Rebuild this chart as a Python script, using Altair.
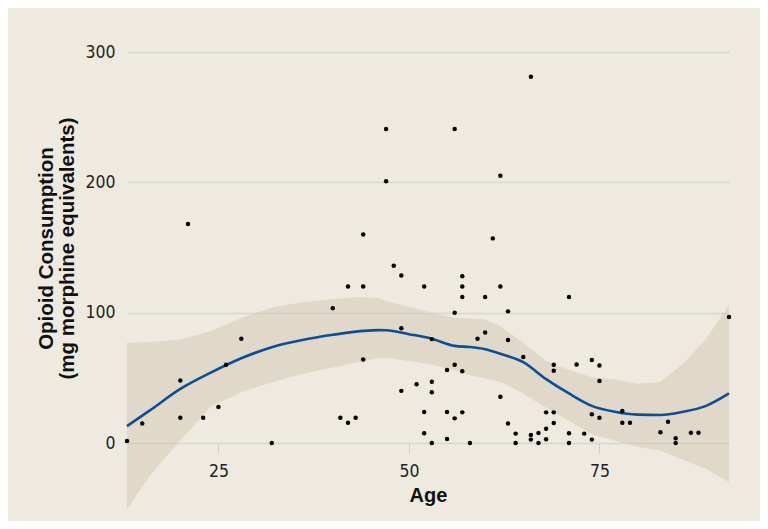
import altair as alt
import pandas as pd

# Scatter points: age (years) and opioid consumption (mg morphine equivalents)
ages = [13, 15, 20, 20, 21, 23, 25, 26, 28, 32,
        40, 41, 42, 42, 43, 44, 44, 44, 47, 47,
        48, 49, 49, 49, 51, 52, 52, 52, 53, 53,
        53, 53, 55, 55, 55, 56, 56, 56, 56, 57,
        57, 57, 57, 57, 58, 59, 60, 60, 61, 62,
        62, 62, 63, 63, 63, 64, 64, 65, 66, 66,
        66, 67, 67, 68, 68, 68, 69, 69, 69, 69,
        71, 71, 71, 72, 73, 74, 74, 74, 75, 75,
        75, 78, 78, 79, 83, 84, 85, 85, 87, 88, 92]
opioid = [1.5, 15, 48, 19.4, 168, 19.4, 27.6, 60, 80, 0,
          103.4, 19.4, 15.6, 120, 19.4, 160, 120, 64, 241, 200.8,
          136, 88, 128.5, 40, 45, 120, 23.8, 7.4, 47, 39,
          79.7, 0, 56, 23.8, 3, 241, 100, 60, 18.9, 128,
          120, 112, 55, 23.5, 0, 80, 112, 84.8, 157, 205,
          120, 35.5, 15, 101, 79, 7.2, 0, 66, 281, 6.1,
          2.6, 7.7, 0, 23.5, 11, 2.8, 60, 55.4, 23.5, 15.3,
          7.4, 0, 112, 60.3, 7.2, 63.6, 22, 2.6, 59.5, 47.5,
          19.4, 24.5, 15.6, 15.6, 8.2, 16.3, 3.6, 0, 7.9, 7.9, 96.6]

# Smoothed fit with confidence band
smooth_age = [13, 16, 20, 24, 28, 32, 36, 40, 44, 46, 47, 50, 53, 56, 58,
              60, 62, 65, 68, 71, 74, 77, 80, 83, 86, 89, 92]
smooth_fit = [13, 25, 41.5, 54, 65, 73.5, 79, 83, 86, 86.6, 86.5, 83.5, 80, 74.5, 73.6,
              72, 68.5, 62, 49, 38, 28.5, 24, 21.8, 21.5, 24, 28.5, 38]
smooth_hi = [77, 77.5, 79.5, 86, 96, 104, 108, 110.5, 112, 111, 109, 104.5, 100, 96, 95.5,
             95, 89.5, 77, 63, 56, 50.5, 49, 45.5, 47, 61, 80, 106]
smooth_lo = [-51, -25, 2, 28, 39, 46.5, 53, 58, 63, 65, 65.5, 63, 60, 56, 52,
             49.5, 47, 38, 27, 17, 6.5, 2, -3, -6, -13, -20, -30]

pts = pd.DataFrame({"age": ages, "opioid": opioid})
smooth = pd.DataFrame({"age": smooth_age, "fit": smooth_fit,
                       "lo": smooth_lo, "hi": smooth_hi})

LABEL_FONT = "Liberation Sans Narrow, DejaVu Sans Condensed, Roboto, sans-serif"
TITLE_FONT = "Liberation Sans, Arial, Helvetica, sans-serif"

xscale = alt.Scale(domain=[13, 92], nice=False, zero=False)
yscale = alt.Scale(domain=[0, 300], nice=False)

xaxis = alt.Axis(values=[25, 50, 75], grid=False, domain=False, ticks=True,
                 tickSize=10, tickColor="#cfcfcf", tickWidth=1,
                 labelPadding=9, labelFont=LABEL_FONT, labelFontSize=17.5,
                 labelColor="#222222", title="Age", titleFont=TITLE_FONT,
                 titleFontSize=20, titleFontWeight="bold", titleColor="#111111",
                 titleY=58, titleBaseline="alphabetic")
yaxis = alt.Axis(values=[0, 100, 200, 300], grid=True, gridColor="#d6d6d6",
                 gridWidth=1.5, domain=False, ticks=False, labelPadding=12,
                 labelFont=LABEL_FONT, labelFontSize=17.5, labelColor="#222222",
                 title=["Opioid Consumption", "(mg morphine equivalents)"],
                 titleFont=TITLE_FONT, titleFontSize=20.5, titleFontWeight="bold",
                 titleColor="#111111", titleAngle=270, titleAlign="center",
                 titleBaseline="middle", titleLineHeight=21,
                 titleX=-81, titleY=196)

band = alt.Chart(smooth).mark_area(color="#CFC6AC", opacity=0.45, clip=False).encode(
    x=alt.X("age:Q", scale=xscale, axis=xaxis),
    y=alt.Y("lo:Q", scale=yscale, axis=yaxis),
    y2="hi:Q",
)

line = alt.Chart(smooth).mark_line(color="#0B4F97", strokeWidth=2.6,
                                   interpolate="monotone").encode(
    x=alt.X("age:Q", scale=xscale),
    y=alt.Y("fit:Q", scale=yscale),
)

points = alt.Chart(pts).mark_circle(color="#000000", size=20, opacity=1).encode(
    x=alt.X("age:Q", scale=xscale),
    y=alt.Y("opioid:Q", scale=yscale),
)

chart = (band + line + points).properties(
    width=602, height=391,
    autosize=alt.AutoSizeParams(type="none"),
    padding={"left": 119, "top": 44, "right": 31, "bottom": 78},
    background="#EEEAE0",
).configure_view(strokeWidth=0)

chart.save("out.html", embed_options={"renderer": "svg", "actions": False})
